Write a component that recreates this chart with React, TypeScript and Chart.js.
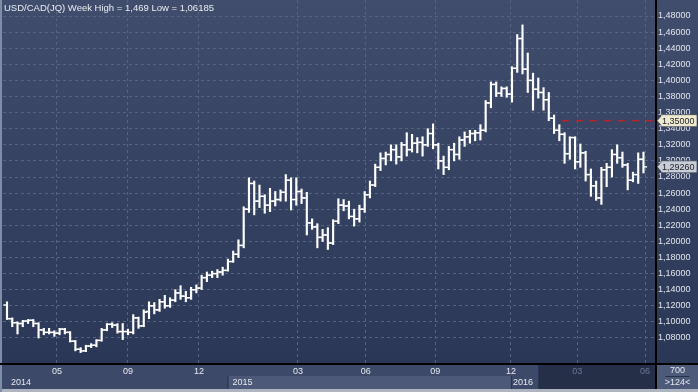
import { useEffect, useRef } from "react";
import { Chart, registerables } from "chart.js";
Chart.register(...registerables);

const TITLE = "USD/CAD(JQ) Week High = 1,469 Low = 1,06185";

const opens = [
  1.121, 1.104, 1.099, 1.098, 1.101, 1.102, 1.098, 1.090, 1.087, 1.087,
  1.086, 1.091, 1.087, 1.076, 1.066, 1.064, 1.070, 1.071, 1.077, 1.090,
  1.097, 1.096, 1.088, 1.088, 1.087, 1.105, 1.095, 1.113, 1.120, 1.115,
  1.125, 1.120, 1.127, 1.136, 1.132, 1.130, 1.140, 1.142, 1.155, 1.158,
  1.160, 1.162, 1.164, 1.175, 1.184, 1.195, 1.240, 1.272, 1.250, 1.256,
  1.245, 1.250, 1.252, 1.261, 1.276, 1.252, 1.262, 1.254, 1.223, 1.218,
  1.205, 1.208, 1.198, 1.225, 1.245, 1.244, 1.231, 1.228, 1.240, 1.258,
  1.270, 1.292, 1.303, 1.308, 1.314, 1.305, 1.320, 1.314, 1.322, 1.323,
  1.320, 1.334, 1.320, 1.300, 1.292, 1.314, 1.308, 1.326, 1.330, 1.334,
  1.335, 1.338, 1.372, 1.395, 1.384, 1.390, 1.383, 1.415, 1.452, 1.414,
  1.400, 1.389, 1.385, 1.376, 1.353, 1.338, 1.333, 1.309, 1.329, 1.299,
  1.310, 1.283, 1.269, 1.254, 1.289, 1.292, 1.308, 1.304, 1.295, 1.276,
  1.283, 1.302,
];
const highs = [
  1.125, 1.105, 1.100, 1.102, 1.103, 1.103, 1.099, 1.092, 1.092, 1.089,
  1.092, 1.092, 1.088, 1.077, 1.068, 1.071, 1.073, 1.078, 1.092, 1.098,
  1.099, 1.098, 1.098, 1.091, 1.109, 1.106, 1.115, 1.125, 1.124, 1.128,
  1.133, 1.130, 1.140, 1.145, 1.138, 1.143, 1.146, 1.158, 1.162, 1.163,
  1.165, 1.168, 1.178, 1.188, 1.202, 1.243, 1.279, 1.275, 1.270, 1.258,
  1.266, 1.262, 1.264, 1.283, 1.279, 1.279, 1.265, 1.261, 1.228, 1.222,
  1.215, 1.217, 1.227, 1.253, 1.252, 1.250, 1.240, 1.245, 1.262, 1.275,
  1.296, 1.310, 1.311, 1.320, 1.320, 1.323, 1.335, 1.333, 1.329, 1.330,
  1.340, 1.346, 1.322, 1.306, 1.318, 1.322, 1.330, 1.336, 1.338, 1.338,
  1.345, 1.375, 1.398, 1.398, 1.392, 1.392, 1.417, 1.457, 1.469, 1.434,
  1.409, 1.403, 1.391, 1.385, 1.357, 1.345, 1.335, 1.330, 1.330, 1.321,
  1.312, 1.290, 1.275, 1.292, 1.297, 1.314, 1.320, 1.311, 1.297, 1.286,
  1.310, 1.311,
];
const lows = [
  1.103, 1.094, 1.085, 1.094, 1.098, 1.094, 1.080, 1.084, 1.085, 1.082,
  1.084, 1.085, 1.075, 1.064, 1.06185, 1.063, 1.068, 1.069, 1.076, 1.089,
  1.093, 1.086, 1.078, 1.084, 1.085, 1.092, 1.094, 1.104, 1.110, 1.113,
  1.117, 1.118, 1.125, 1.128, 1.125, 1.128, 1.136, 1.140, 1.150, 1.155,
  1.155, 1.158, 1.163, 1.174, 1.180, 1.192, 1.236, 1.233, 1.242, 1.235,
  1.237, 1.244, 1.250, 1.250, 1.239, 1.245, 1.247, 1.208, 1.215, 1.192,
  1.200, 1.190, 1.196, 1.222, 1.238, 1.228, 1.219, 1.224, 1.236, 1.254,
  1.268, 1.288, 1.295, 1.300, 1.296, 1.300, 1.306, 1.311, 1.310, 1.306,
  1.318, 1.315, 1.290, 1.283, 1.289, 1.300, 1.302, 1.318, 1.322, 1.325,
  1.326, 1.336, 1.366, 1.380, 1.380, 1.379, 1.373, 1.410, 1.408, 1.385,
  1.363, 1.378, 1.363, 1.350, 1.334, 1.325, 1.297, 1.302, 1.290, 1.292,
  1.275, 1.256, 1.251, 1.246, 1.268, 1.280, 1.297, 1.292, 1.264, 1.274,
  1.272, 1.285,
];
const closes = [
  1.104, 1.099, 1.098, 1.101, 1.102, 1.098, 1.090, 1.087, 1.087, 1.086,
  1.091, 1.087, 1.076, 1.066, 1.064, 1.070, 1.071, 1.077, 1.090, 1.097,
  1.096, 1.088, 1.088, 1.087, 1.105, 1.095, 1.112, 1.120, 1.115, 1.125,
  1.120, 1.127, 1.136, 1.132, 1.130, 1.140, 1.142, 1.155, 1.158, 1.160,
  1.162, 1.164, 1.175, 1.184, 1.195, 1.240, 1.272, 1.250, 1.256, 1.245,
  1.250, 1.252, 1.261, 1.276, 1.252, 1.262, 1.254, 1.223, 1.218, 1.205,
  1.208, 1.198, 1.225, 1.245, 1.244, 1.231, 1.228, 1.240, 1.258, 1.270,
  1.292, 1.303, 1.308, 1.314, 1.305, 1.320, 1.314, 1.322, 1.323, 1.320,
  1.334, 1.320, 1.300, 1.292, 1.314, 1.308, 1.326, 1.330, 1.334, 1.335,
  1.338, 1.372, 1.395, 1.384, 1.390, 1.383, 1.415, 1.452, 1.414, 1.400,
  1.389, 1.385, 1.376, 1.353, 1.338, 1.333, 1.309, 1.329, 1.299, 1.310,
  1.283, 1.269, 1.254, 1.289, 1.292, 1.308, 1.304, 1.295, 1.276, 1.283,
  1.302, 1.2926,
];

// axis content
const monthTickAt = [9.5, 23.0, 36.5, 55.3, 68.2, 81.4, 95.8, 108.4, 121.3];
const monthLabels = ["05", "09", "12", "03", "06", "09", "12", "03", "06"];
const yearLabels = ["2014", "2015", "2016"];
const yearStartAt = [-0.76, 42.1, 96.0];
const futureFrom = 101.0;
const yTicks = [
  1.08, 1.1, 1.12, 1.14, 1.16, 1.18, 1.2, 1.22, 1.24, 1.26, 1.28,
  1.3, 1.32, 1.34, 1.36, 1.38, 1.4, 1.42, 1.44, 1.46, 1.48,
];
const LEVEL = 1.35;
const LEVEL_FROM = 105.5;
const FOOT_TOP = "700";
const FOOT_BOTTOM = ">124<";

const X_MIN = -0.76;
const X_MAX = 123.19;
const Y_MIN = 1.04894;
const Y_MAX = 1.49988;

const FONT = '"Liberation Sans", Arial, sans-serif';
const fmt = (v: number) => v.toFixed(5).replace(".", ",");

const bgPlugin = {
  id: "bg",
  beforeDraw(chart: any) {
    const { ctx, chartArea: a, width, height } = chart;
    const xs = chart.scales.x;
    ctx.save();
    const g = ctx.createLinearGradient(0, 0, 0, a.bottom);
    g.addColorStop(0, "#404d6c");
    g.addColorStop(1, "#2a3756");
    ctx.fillStyle = g;
    ctx.fillRect(0, 0, width, a.bottom);
    const bandTop = a.bottom;
    const bandBottom = height - 3;
    const rowSplit = a.bottom + 13;
    ctx.fillStyle = "#3c4969";
    ctx.fillRect(0, bandTop, a.right, bandBottom - bandTop);
    const x15 = xs.getPixelForValue(yearStartAt[1]);
    const x16 = xs.getPixelForValue(yearStartAt[2]);
    ctx.fillStyle = "#4c5978";
    ctx.fillRect(x15, rowSplit, x16 - x15, bandBottom - rowSplit);
    const xf = xs.getPixelForValue(futureFrom);
    ctx.fillStyle = "#252f48";
    ctx.fillRect(xf, bandTop, a.right - xf, bandBottom - bandTop);
    ctx.fillStyle = "#4d5a7a";
    ctx.fillRect(a.right, bandTop, width - a.right, bandBottom - bandTop);
    ctx.fillStyle = "#aeb4c0";
    ctx.fillRect(0, bandBottom, width, 3);
    ctx.fillStyle = "#7f8da6";
    ctx.fillRect(0, 0, 2, height);
    ctx.restore();
  },
};

const ohlcPlugin = {
  id: "ohlcTicks",
  afterDatasetsDraw(chart: any) {
    const { ctx, chartArea: a } = chart;
    const xs = chart.scales.x;
    const ys = chart.scales.y;
    ctx.save();
    ctx.beginPath();
    ctx.rect(a.left, a.top, a.right - a.left, a.bottom - a.top);
    ctx.clip();
    ctx.fillStyle = "#ffffff";
    for (let i = 0; i < opens.length; i++) {
      const x = xs.getPixelForValue(i);
      const yo = ys.getPixelForValue(opens[i]);
      const yc = ys.getPixelForValue(closes[i]);
      ctx.fillRect(x - 3.6, yo - 0.7, 3.6, 1.4);
      ctx.fillRect(x, yc - 0.7, 3.6, 1.4);
    }
    ctx.restore();
  },
};

function valueBox(ctx: any, right: number, y: number, text: string, fill: string) {
  const x0 = right + 5;
  const x1 = 697;
  ctx.fillStyle = fill;
  ctx.beginPath();
  ctx.moveTo(right + 1, y);
  ctx.lineTo(x0, y - 4.5);
  ctx.lineTo(x0, y - 6);
  ctx.lineTo(x1, y - 6);
  ctx.lineTo(x1, y + 6);
  ctx.lineTo(x0, y + 6);
  ctx.lineTo(x0, y + 4.5);
  ctx.closePath();
  ctx.fill();
  ctx.strokeStyle = "rgba(40,50,70,0.6)";
  ctx.lineWidth = 1;
  ctx.stroke();
  ctx.fillStyle = "#1c1f26";
  ctx.font = `9px ${FONT}`;
  ctx.textAlign = "left";
  ctx.textBaseline = "middle";
  ctx.fillText(text, right + 6, y + 0.5);
}

const overlayPlugin = {
  id: "overlay",
  afterDraw(chart: any) {
    const { ctx, chartArea: a, width, height } = chart;
    const xs = chart.scales.x;
    const ys = chart.scales.y;
    const bandBottom = height - 3;
    const rowSplit = a.bottom + 13;
    ctx.save();
    ctx.fillStyle = "#000";
    ctx.fillRect(0, a.bottom, width, 2);
    ctx.fillRect(a.right, 0, 2, bandBottom);
    const offs = [8, 4, 1];
    ctx.font = `9px ${FONT}`;
    ctx.textBaseline = "middle";
    ctx.textAlign = "left";
    yearLabels.forEach((lab, k) => {
      const x = k === 0 ? a.left : xs.getPixelForValue(yearStartAt[k]);
      if (k > 0) {
        ctx.fillStyle = "#2a3450";
        ctx.fillRect(x - 1, rowSplit, 1, bandBottom - rowSplit);
      }
      ctx.fillStyle = "#e6e9ef";
      ctx.fillText(lab, x + offs[k], rowSplit + 6.5);
    });
    ctx.fillStyle = "#e9edf3";
    ctx.font = `9.5px ${FONT}`;
    ctx.textBaseline = "alphabetic";
    ctx.fillText(TITLE, 4, 11);
    valueBox(ctx, a.right + 1, ys.getPixelForValue(LEVEL), fmt(LEVEL), "#efe9cf");
    valueBox(ctx, a.right + 1, ys.getPixelForValue(closes[closes.length - 1]), fmt(closes[closes.length - 1]), "#c8cdd7");
    const cx = (a.right + width) / 2 + 1;
    ctx.fillStyle = "#e6e9ef";
    ctx.font = `9px ${FONT}`;
    ctx.textAlign = "center";
    ctx.textBaseline = "middle";
    ctx.fillText(FOOT_TOP, cx, a.bottom + 8);
    ctx.fillText(FOOT_BOTTOM, cx, a.bottom + 20);
    ctx.fillStyle = "#27314a";
    ctx.fillRect(cx - 12, a.bottom + 13, 24, 1);
    ctx.restore();
  },
};

export default function App() {
  const ref = useRef<HTMLCanvasElement>(null);
  useEffect(() => {
    document.body.style.margin = "0";
    const canvas = ref.current!;
    const chart = new Chart(canvas, {
      type: "bar",
      data: {
        datasets: [
          {
            type: "bar",
            data: highs.map((h, i) => ({ x: i, y: [lows[i], h] })) as any,
            backgroundColor: "#ffffff",
            borderWidth: 0,
            barThickness: 1.5,
            grouped: false,
          } as any,
          {
            type: "line",
            data: [
              { x: LEVEL_FROM, y: LEVEL },
              { x: X_MAX, y: LEVEL },
            ] as any,
            borderColor: "#b3262c",
            borderWidth: 1.5,
            borderDash: [7, 7],
            pointRadius: 0,
            order: 1,
          } as any,
        ],
      },
      options: {
        animation: false,
        responsive: false,
        maintainAspectRatio: false,
        devicePixelRatio: 1,
        events: [],
        layout: { padding: { left: 3, top: 0, right: 0, bottom: 0 }, autoPadding: false } as any,
        plugins: { legend: { display: false }, tooltip: { enabled: false } },
        scales: {
          x: {
            type: "linear",
            min: X_MIN,
            max: X_MAX,
            bounds: "data",
            offset: false,
            afterBuildTicks: (s: any) => {
              s.ticks = monthTickAt.map((v) => ({ value: v }));
            },
            afterFit: (s: any) => {
              s.height = 29;
              s.paddingLeft = 0;
              s.paddingRight = 0;
            },
            ticks: {
              autoSkip: false,
              maxRotation: 0,
              minRotation: 0,
              padding: 3,
              font: { family: FONT, size: 9 },
              color: (c: any) => (monthTickAt[c.index] >= futureFrom ? "#6c7891" : "#e6e9ef"),
              callback: (_v: any, idx: number) => monthLabels[idx],
            },
            grid: { color: "#56657f", drawTicks: false, offset: false, lineWidth: 1 },
            border: { display: false, dash: [3, 3] },
          } as any,
          y: {
            type: "linear",
            position: "right",
            min: Y_MIN,
            max: Y_MAX,
            bounds: "data",
            beginAtZero: false,
            afterBuildTicks: (s: any) => {
              s.ticks = yTicks.map((v) => ({ value: v }));
            },
            afterFit: (s: any) => {
              s.width = 43;
              s.paddingTop = 0;
              s.paddingBottom = 0;
            },
            ticks: {
              padding: 3,
              font: { family: FONT, size: 9 },
              color: "#e2e6ee",
              callback: (v: any) => fmt(Number(v)),
            },
            grid: { color: "#56657f", drawTicks: false, lineWidth: 1 },
            border: { display: false, dash: [3, 3] },
          } as any,
        },
      },
      plugins: [bgPlugin, ohlcPlugin, overlayPlugin],
    });
    return () => chart.destroy();
  }, []);
  return (
    <canvas
      ref={ref}
      width={698}
      height={392}
      style={{ display: "block", width: 698, height: 392 }}
    />
  );
}
